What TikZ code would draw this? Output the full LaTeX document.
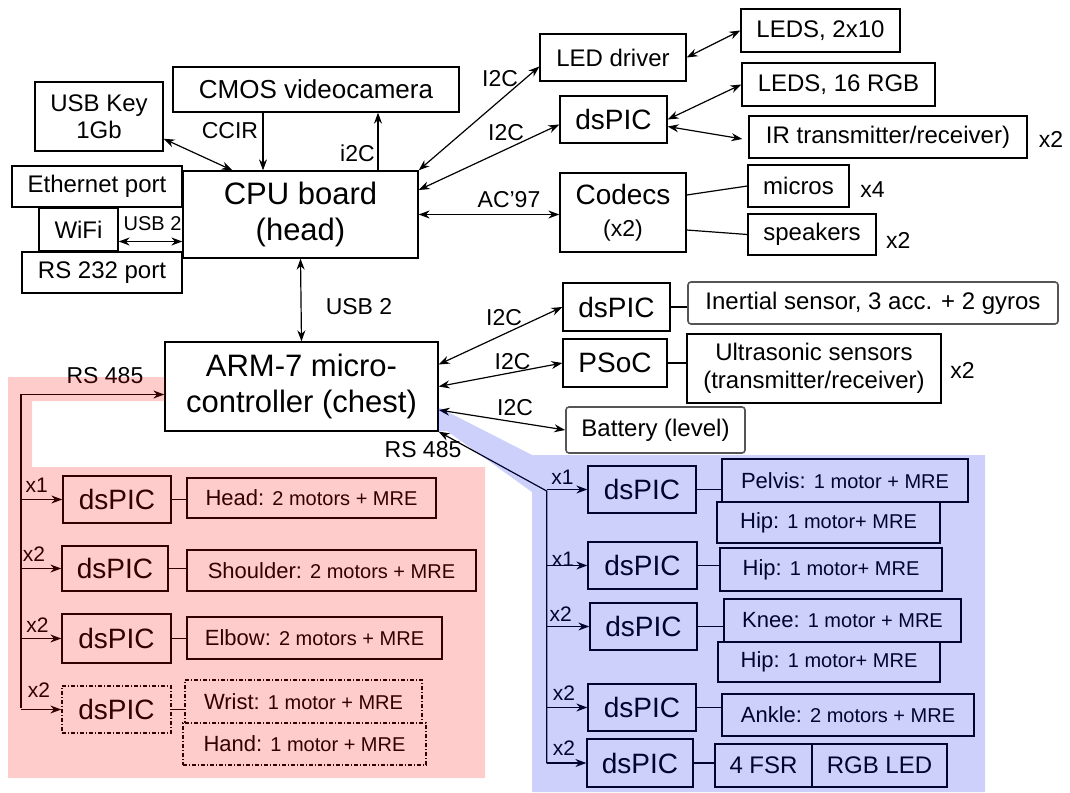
\documentclass[tikz,border=0pt]{standalone}
\usepackage{fontspec}
\setmainfont{Liberation Sans}
\usepackage{tikz}
\usetikzlibrary{arrows.meta,positioning,calc}
\usepackage{xcolor}
\definecolor{ZonePink}{RGB}{255,0,0}
\definecolor{ZoneBlue}{RGB}{0,20,230}
\definecolor{RoundGray}{RGB}{85,85,85}
\newcommand{\fsz}[2]{\fontsize{#1}{#2}\selectfont}
\newcommand{\smtext}[1]{{\fsz{20}{24}#1}}

\begin{document}
\begin{tikzpicture}[x=1pt,y=-1pt,
  >={Stealth[length=11pt,width=8pt]},
  box/.style={draw,line width=1.3pt,fill=white,inner sep=0pt,align=center,
              font=\fsz{24}{27}},
  wh/.style 2 args={minimum width=#1pt,minimum height=#2pt},
  big/.style={box,font=\fsz{31}{36}},
  pic/.style={box,font=\fsz{28}{32}},
  desc/.style={box,font=\fsz{22}{26}},
  rbox/.style={box,draw=RoundGray,rounded corners=3pt,line width=1.6pt},
  dbox/.style={dash pattern=on 4pt off 2pt on 1pt off 2pt},
  lbl/.style={inner sep=0pt,font=\fsz{23}{26}},
  xlbl/.style={inner sep=0pt,font=\fsz{21}{24}},
  arr/.style={->,line width=1.2pt},
  darr/.style={<->,line width=1.2pt},
  lnk/.style={line width=1.2pt},
]
\useasboundingbox (0,0) rectangle (1070,792);

% head
\node[big,wh={235}{87}] (cpu) at (300.5,214.5) {CPU board\\(head)};
\node[box,wh={128}{69},font=\fsz{24}{27}] (usbkey) at (99,116.5) {USB Key\\1Gb};
\node[box,font=\fsz{26}{30},wh={286}{45}] (cmos) at (316,89.5) {CMOS videocamera};
\node[box,wh={170}{41}] (eth) at (97,186.5) {Ethernet port};
\node[box,wh={79}{43}] (wifi) at (78.5,229.5) {WiFi};
\node[box,wh={160}{41}] (rs232) at (102,272.5) {RS 232 port};
\node[box,wh={146}{47}] (leddrv) at (613,57.5) {LED driver};
\node[box,wh={159}{43}] (leds10) at (820.5,30.5) {LEDS, 2x10};
\node[pic,wh={107}{47}] (dspicH) at (613.5,119.5) {dsPIC};
\node[box,wh={193}{43}] (leds16) at (838.5,84.5) {LEDS, 16 RGB};
\node[box,wh={278}{42}] (ir) at (888,137) {IR transmitter/receiver)};
\node[pic,wh={126}{79}] (codecs) at (623,212.5) {Codecs\\{\fsz{23}{26}(x2)}};
\node[box,wh={101}{42}] (micros) at (798.5,186) {micros};
\node[box,wh={128}{41}] (speakers) at (812,234.5) {speakers};

% chest
\node[big,font=\fsz{31}{36},wh={273}{89}] (arm) at (301.5,386.5) {ARM-7 micro-\\controller (chest)};
\node[pic,wh={107}{48}] (dspicI) at (616.5,307) {dsPIC};
\node[rbox,wh={370}{42}] (inertial) at (873,303) {Inertial sensor, 3 acc. + 2 gyros};
\node[pic,wh={104}{48}] (psoc) at (615,363) {PSoC};
\node[box,wh={254}{69},font=\fsz{24}{28}] (ultra) at (814,368.5) {Ultrasonic sensors\\(transmitter/receiver)};
\node[rbox,wh={179}{46}] (battery) at (655.5,430) {Battery (level)};

% arms
\node[pic,wh={108}{47}] (lp1) at (117,499.5) {dsPIC};
\node[desc,wh={249}{40}] (head) at (311.5,498) {Head: \smtext{2 motors + MRE}};
\node[pic,wh={106}{45}] (lp2) at (115,568.5) {dsPIC};
\node[desc,wh={289}{41}] (shoulder) at (331.5,570.5) {Shoulder: \smtext{2 motors + MRE}};
\node[pic,wh={109}{49}] (lp3) at (116.5,638.5) {dsPIC};
\node[desc,wh={255}{42}] (elbow) at (314.5,638) {Elbow: \smtext{2 motors + MRE}};
\node[pic,dbox,wh={109}{47}] (lp4) at (116.5,709.5) {dsPIC};
\node[desc,dbox,wh={237}{43}] (wrist) at (303.5,701.5) {Wrist: \smtext{1 motor + MRE}};
\node[desc,dbox,wh={243}{42}] (hand) at (304.5,744) {Hand: \smtext{1 motor + MRE}};

% legs
\node[pic,wh={108}{47}] (rp1) at (642,489.5) {dsPIC};
\node[desc,wh={246}{43}] (pelvis) at (845,480.5) {Pelvis: \smtext{1 motor + MRE}};
\node[desc,wh={223}{41}] (hip1) at (828.5,522.5) {Hip: \smtext{1 motor+ MRE}};
\node[pic,wh={109}{47}] (rp2) at (642.5,565.5) {dsPIC};
\node[desc,wh={222}{43}] (hip2) at (831,569.5) {Hip: \smtext{1 motor+ MRE}};
\node[pic,wh={107}{47}] (rp3) at (643.5,626.5) {dsPIC};
\node[desc,wh={237}{43}] (knee) at (842.5,620.5) {Knee: \smtext{1 motor + MRE}};
\node[desc,wh={222}{40}] (hip3) at (829,662) {Hip: \smtext{1 motor+ MRE}};
\node[pic,wh={108}{47}] (rp4) at (642,707.5) {dsPIC};
\node[desc,wh={252}{42}] (ankle) at (848,715) {Ankle: \smtext{2 motors + MRE}};
\node[pic,wh={106}{48}] (rp5) at (640,763) {dsPIC};
\node[box,wh={97}{43}] (fsr) at (763.5,765.5) {4 FSR};
\node[box,wh={135}{43}] (rgbled) at (879.5,765.5) {RGB LED};

% links
\draw[darr] (usbkey.-19) -- ([xshift=-68pt]cpu.north);
\draw[arr] ([xshift=-53pt]cmos.south) -- ([xshift=-53pt]cmos.south |- cpu.north);
\draw[arr] ([xshift=77.5pt]cpu.north) -- ([xshift=77.5pt]cpu.north |- cmos.south);
\draw[darr] ([yshift=-12pt]wifi.east) -- ([yshift=-12pt]wifi.east -| cpu.west);
\draw[darr] (cpu.north east) -- ([yshift=-9pt]leddrv.west);
\draw[darr] ([yshift=24.5pt]cpu.east) -- ([yshift=-5pt]dspicH.west);
\draw[darr] (cpu.east) -- (cpu.east -| codecs.west);
\draw[darr] (leddrv.east) -- (leds10.west);
\draw[darr] (dspicH.east) -- (leds16.west);
\draw[darr] ([yshift=-7pt]dspicH.east) -- ([xshift=-6pt,yshift=-2pt]ir.west);
\draw[lnk] ([yshift=17.5pt]codecs.east) -- (micros.west);
\draw[lnk] ([yshift=-17.5pt]codecs.east) -- (speakers.west);
\draw[darr] (cpu.south) -- (arm.north);
\draw[darr] ([yshift=22pt]arm.east) -- (dspicI.west);
\draw[darr] (arm.east) -- (psoc.west);
\draw[darr] ([yshift=-23.5pt]arm.east) -- (battery.west);
\draw[lnk] (dspicI.east) -- (dspicI.east -| inertial.west);
\draw[lnk] (psoc.east) -- (psoc.east -| ultra.west);

\coordinate (lbot) at (21,708.3);
\draw[arr] (lbot) |- ([yshift=-8pt]arm.west);
\foreach \n in {lp1,lp2,lp3,lp4}
  \draw[arr] (lbot |- \n.west) -- (\n.west);
\draw[lnk] (lp1.east) -- (lp1.east -| head.west);
\draw[lnk] (lp2.east) -- (lp2.east -| shoulder.west);
\draw[lnk] (lp3.east) -- (lp3.east -| elbow.west);
\draw[lnk] (lp4.east) -- (lp4.east -| wrist.west);

\coordinate (rtop) at (546.7,491);
\coordinate (rbot) at (546.7,763.3);
\draw[arr] (rbot) -- (rtop) -- (arm.south east);
\foreach \n in {rp1,rp2,rp3,rp4,rp5}
  \draw[arr] (rtop |- \n.west) -- (\n.west);
\draw[lnk] (rp1.east) -- (rp1.east -| pelvis.west);
\draw[lnk] (rp2.east) -- (rp2.east -| hip2.west);
\draw[lnk] (rp3.east) -- (rp3.east -| knee.west);
\draw[lnk] (rp4.east) -- (rp4.east -| ankle.west);
\draw[lnk] (rp5.east) -- (rp5.east -| fsr.west);

% labels
\node[lbl] (lccir) at (230,131) {CCIR};
\node[lbl] (li2c) at (357.5,153.5) {i2C};
\node[lbl,font=\fsz{20}{24}] (lusbw) at (152.5,224) {USB 2};
\node[lbl] (li2ca) at (500,79) {I2C};
\node[lbl] (li2cb) at (506,133) {I2C};
\node[lbl] (lac) at (509,200) {AC'97};
\node[lbl] (lusb) at (359,307) {USB 2};
\node[lbl] (li2cc) at (504,318) {I2C};
\node[lbl] (li2cd) at (512.5,361.5) {I2C};
\node[lbl] (li2ce) at (515,408) {I2C};
\node[lbl] (lrsl) at (105,376) {RS 485};
\node[lbl] (lrsr) at (423,450) {RS 485};
\node[lbl] (xir) at (1051,139) {x2};
\node[lbl] (xmic) at (872.5,190) {x4};
\node[lbl] (xspk) at (898.3,240) {x2};
\node[lbl] (xus) at (962.5,370) {x2};
\node[xlbl] (xl1) at (36.7,485) {x1};
\node[xlbl] (xl2) at (34,553.7) {x2};
\node[xlbl] (xl3) at (37.5,624.7) {x2};
\node[xlbl] (xl4) at (39,689.7) {x2};
\node[xlbl] (xr1) at (562.5,477.5) {x1};
\node[xlbl] (xr2) at (563,559) {x1};
\node[xlbl] (xr3) at (560.8,614.2) {x2};
\node[xlbl] (xr4) at (564,693) {x2};
\node[xlbl] (xr5) at (564,748) {x2};

% zones
\fill[ZonePink,opacity=0.2] (8,377) -- (165,377) -- (165,401) -- (32,401)
  -- (32,467) -- (485,467) -- (485,778) -- (8,778) -- cycle;
\fill[ZoneBlue,opacity=0.2] (438,407) -- (532,455) -- (985,455) -- (985,792)
  -- (532,792) -- (532,492) -- (447,431) -- (438,431) -- cycle;
\end{tikzpicture}
\end{document}
